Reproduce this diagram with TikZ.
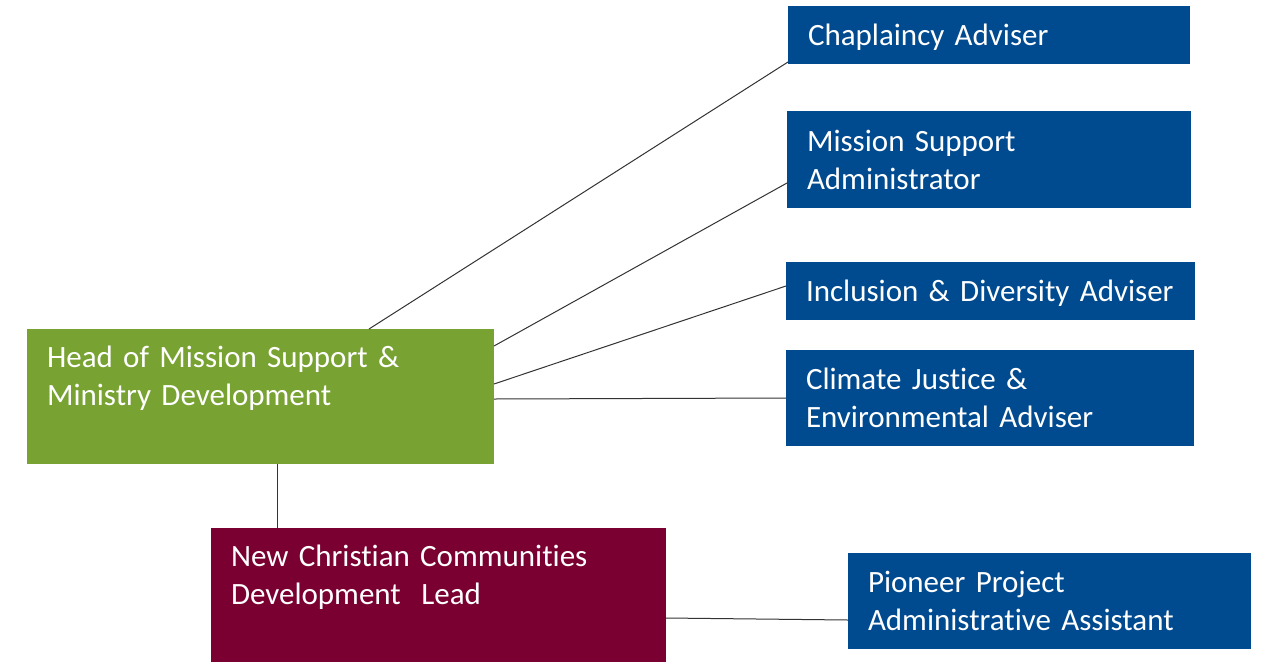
\documentclass[tikz,border=0pt]{standalone}
\usepackage{fontspec}
\setmainfont{Carlito}[Ligatures=NoCommon]
\definecolor{blueb}{HTML}{004A8F}
\definecolor{greenb}{HTML}{78A232}
\definecolor{maroonb}{HTML}{7A0032}
\definecolor{linec}{HTML}{333333}
\tikzset{
  orgbox/.style={anchor=north west, inner xsep=20pt, inner ysep=0pt, align=left,
    text=white, font=\fontsize{31}{38}\selectfont, outer sep=0pt},
  conn/.style={draw=linec, line width=1pt}
}
\begin{document}
\begin{tikzpicture}[x=1pt,y=-1pt]
\useasboundingbox (0,0) rectangle (1261,662);
\node[orgbox, fill=blueb, text width=362pt, minimum width=402pt, minimum height=58pt] (chap) at (788,6) {\raisebox{-2pt}[\height][\depth]{Chaplaincy Adviser}};
\node[orgbox, fill=blueb, text width=364pt, minimum width=404pt, minimum height=97pt] (msa) at (787,111) {Mission Support\\Administrator};
\node[orgbox, fill=blueb, text width=369pt, minimum width=409pt, minimum height=58pt] (inc) at (786,262) {\raisebox{-2pt}[\height][\depth]{Inclusion \& Diversity Adviser}};
\node[orgbox, fill=blueb, text width=368pt, minimum width=408pt, minimum height=96pt] (clim) at (786,350) {Climate Justice \&\\Environmental Adviser};
\node[orgbox, fill=greenb, text width=427pt, minimum width=467pt, minimum height=135pt] (head) at (27,329) {Head of Mission Support \&\\Ministry Development\\[-8pt]\strut};
\node[orgbox, fill=maroonb, text width=415pt, minimum width=455pt, minimum height=134pt] (nccd) at (211,528) {New Christian Communities\\Development\ \ Lead\\[-8pt]\strut};
\node[orgbox, fill=blueb, text width=363pt, minimum width=403pt, minimum height=96pt] (pion) at (848,553) {Pioneer Project\\Administrative Assistant};

\draw[conn] ([xshift=342pt]head.north west) -- ([yshift=2pt]chap.south west);
\draw[conn] ([yshift=-17pt]head.north east) -- ([yshift=-23.5pt]msa.west);
\draw[conn] ([yshift=-55pt]head.north east) -- ([yshift=5pt]inc.west);
\draw[conn] ([yshift=-70pt]head.north east) -- (clim.west);
\draw[conn] ([xshift=250pt]head.south west) -- ([xshift=66pt]nccd.north west);
\draw[conn] ([yshift=-90pt]nccd.north east) -- ([yshift=-19pt]pion.west);
\end{tikzpicture}
\end{document}
